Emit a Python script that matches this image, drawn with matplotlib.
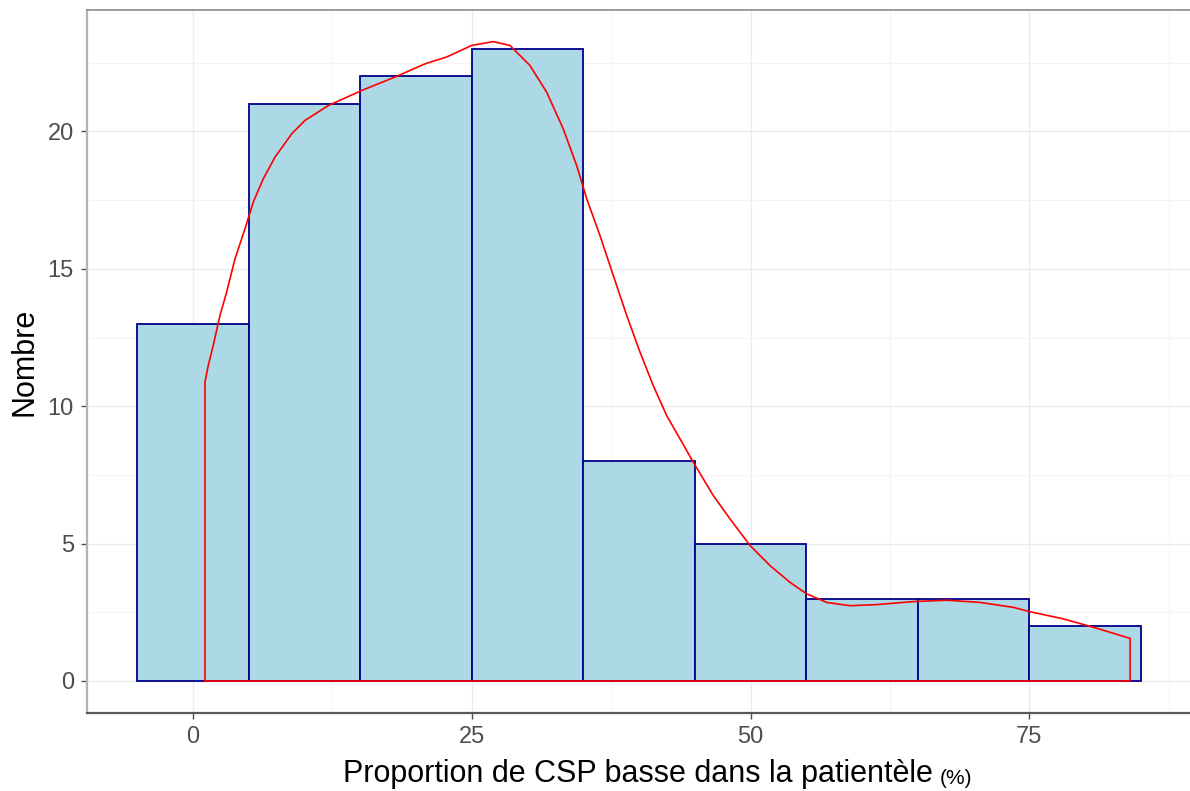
import numpy as np
import matplotlib.pyplot as plt
from matplotlib.ticker import MultipleLocator

# Histogramme des effectifs (classes de largeur 10)
bin_centers = [0, 10, 20, 30, 40, 50, 60, 70, 80]
counts = [13, 21, 22, 23, 8, 5, 3, 3, 2]
bin_width = 10

# Courbe de densite (mise a l'echelle des effectifs), contour ferme sur l'axe
dens_x = [1.08, 1.08, 1.37, 1.82, 2.42, 3.02, 3.77, 4.66, 5.41, 6.30, 7.35,
          8.85, 10.04, 12.13, 15.13, 18.12, 20.81, 22.75, 25.0, 26.93, 28.43,
          30.22, 31.72, 33.21, 34.41, 35.31, 36.5, 37.7, 38.9, 40.09, 41.28,
          42.48, 43.68, 44.87, 46.66, 48.16, 49.96, 51.75, 53.54, 55.04, 56.83,
          58.92, 61.32, 64.6, 67.6, 70.58, 73.57, 75.07, 78.05, 81.05, 84.04,
          84.04, 1.08]
dens_y = [0, 10.88, 11.48, 12.21, 13.30, 14.15, 15.36, 16.45, 17.43, 18.27, 19.06,
          19.91, 20.40, 20.94, 21.49, 21.98, 22.46, 22.71, 23.13, 23.27, 23.13,
          22.40, 21.43, 20.09, 18.76, 17.55, 16.21, 14.75, 13.30, 11.97, 10.75,
          9.66, 8.81, 7.96, 6.75, 5.90, 4.93, 4.20, 3.59, 3.17, 2.86,
          2.74, 2.78, 2.89, 2.94, 2.86, 2.68, 2.52, 2.26, 1.92, 1.55,
          0, 0]

x_ticks = [0, 25, 50, 75]
y_ticks = [0, 5, 10, 15, 20]

plt.rcParams['font.family'] = ['Liberation Sans', 'DejaVu Sans']

fig = plt.figure(figsize=(11.9, 7.91), dpi=100)
ax = fig.add_axes([87 / 1190, 78 / 791, 1104 / 1190, 703 / 791])

ax.bar(bin_centers, counts, width=bin_width, color='#add8e6',
       edgecolor='#00008b', linewidth=1.3, zorder=2)
ax.plot(dens_x, dens_y, color='red', linewidth=1.2, zorder=3,
        solid_joinstyle='round')

ax.set_xlim(-9.5, 89.5)
ax.set_ylim(-1.165, 24.42)
ax.set_xticks(x_ticks)
ax.set_yticks(y_ticks)
ax.xaxis.set_minor_locator(MultipleLocator(12.5))
ax.yaxis.set_minor_locator(MultipleLocator(2.5))
ax.grid(which='major', color='#ebebeb', linewidth=1.0, zorder=0)
ax.grid(which='minor', color='#f2f2f2', linewidth=0.6, zorder=0)
ax.set_axisbelow(True)

ax.tick_params(which='minor', length=0)
ax.tick_params(which='major', length=4.5, width=1, color='#4d4d4d',
               labelcolor='#4d4d4d', labelsize=17, pad=5)

ax.spines['right'].set_visible(False)
ax.spines['top'].set_color('#8c8c8c')
ax.spines['top'].set_linewidth(1.2)
ax.spines['left'].set_color('#b3b3b3')
ax.spines['left'].set_linewidth(1.6)
ax.spines['bottom'].set_color('#595959')
ax.spines['bottom'].set_linewidth(1.6)

ax.set_ylabel('Nombre', fontsize=22, labelpad=6)

xlab = fig.text(343 / 1190, 1 - 782 / 791, 'Proportion de CSP basse dans la patientèle',
                fontsize=22, ha='left', va='baseline')
ax.annotate('(%)', xy=(1, 0), xycoords=xlab, xytext=(5, 1),
            textcoords='offset points', fontsize=15, ha='left', va='bottom')

fig.savefig('out.png', dpi=100)
